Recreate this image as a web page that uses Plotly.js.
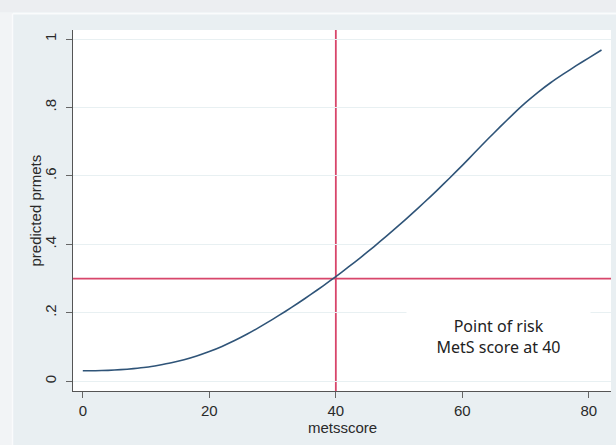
<!DOCTYPE html>
<html>
<head>
<meta charset="utf-8">
<script src="https://cdn.plot.ly/plotly-3.0.1.min.js"></script>
<style>
  html, body { margin: 0; padding: 0; background: #e9eff2; }
  #chart { width: 616px; height: 445px; }
</style>
</head>
<body>
<div id="chart"></div>
<script>
// Curve
var metsscore = [0, 2, 4, 6, 8, 10, 12, 14, 16, 18, 20, 22, 24, 26, 28, 30, 32, 34, 36, 38, 40, 42, 44, 46, 48, 50, 52, 54, 56, 58, 60, 62, 64, 66, 68, 70, 72, 74, 76, 78, 80, 82];
var predicted = [0.031, 0.031, 0.032, 0.034, 0.037, 0.041, 0.047, 0.054, 0.063, 0.074, 0.087, 0.102, 0.119, 0.138, 0.159, 0.181, 0.204, 0.228, 0.253, 0.279, 0.306, 0.334, 0.363, 0.393, 0.424, 0.456, 0.489, 0.523, 0.558, 0.594, 0.631, 0.669, 0.707, 0.744, 0.780, 0.814, 0.845, 0.873, 0.898, 0.922, 0.945, 0.968];

// Reference lines
var refScore = [40];
var refRisk = [0.3];

// Ticks and titles
var xTickVals = [0, 20, 40, 60, 80];
var yTickVals = [0, 0.2, 0.4, 0.6, 0.8, 1];
var yTickText = ['0', '.2', '.4', '.6', '.8', '1'];
var xTitle = 'metsscore';
var yTitle = 'predicted prmets';

var noteText = ['Point of risk', 'MetS score at 40'];
var noteX = [65.7];
var noteY = [0.131];

var lineRed = '#d8466b';
var textCol = '#2a2a2a';

var traces = [{
  x: metsscore,
  y: predicted,
  type: 'scatter',
  mode: 'lines',
  line: { color: '#2f5478', width: 1.6, shape: 'spline', smoothing: 0.5 },
  hoverinfo: 'skip',
  showlegend: false
}];

var shapes = [
  // outer screenshot framing
  { type: 'rect', xref: 'paper', yref: 'paper', x0: -0.2, x1: 1.2, y0: 1.049, y1: 1.2, fillcolor: '#eceef1', line: { width: 0 }, layer: 'below' },
  { type: 'rect', xref: 'paper', yref: 'paper', x0: -0.2, x1: -0.1135, y0: -0.3, y1: 1.049, fillcolor: '#f2f4f6', line: { width: 0 }, layer: 'below' },
  { type: 'line', xref: 'paper', yref: 'paper', x0: -0.1125, x1: 1.2, y0: 1.046, y1: 1.046, line: { color: '#fafbfc', width: 2 }, layer: 'below' },
  { type: 'line', xref: 'paper', yref: 'paper', x0: -0.1125, x1: -0.1125, y0: -0.3, y1: 1.046, line: { color: '#fafbfc', width: 1.5 }, layer: 'below' },
  // reference lines
  { type: 'line', xref: 'x', yref: 'paper', x0: refScore[0], x1: refScore[0], y0: 0, y1: 1, line: { color: lineRed, width: 1.8 }, layer: 'between' },
  { type: 'line', xref: 'paper', yref: 'y', x0: 0, x1: 1, y0: refRisk[0], y1: refRisk[0], line: { color: lineRed, width: 1.8 }, layer: 'between' }
];

var layout = {
  width: 616,
  height: 445,
  margin: { l: 73, r: 5, t: 30, b: 54 },
  paper_bgcolor: '#e9eff2',
  plot_bgcolor: '#ffffff',
  font: { family: 'Liberation Sans, Arial, sans-serif', size: 15, color: textCol },
  showlegend: false,
  xaxis: {
    range: [-1.55, 83.5],
    tickvals: xTickVals,
    ticks: 'outside',
    ticklen: 6,
    tickwidth: 1,
    tickcolor: '#666666',
    showgrid: false,
    zeroline: false,
    showline: true,
    linecolor: '#555555',
    linewidth: 1.3,
    tickfont: { size: 15, color: textCol },
    fixedrange: true
  },
  yaxis: {
    range: [-0.0283, 1.0263],
    tickvals: yTickVals,
    ticktext: yTickText,
    tickangle: -90,
    ticklabelstandoff: 4,
    ticks: 'outside',
    ticklen: 6,
    tickwidth: 1,
    tickcolor: '#666666',
    showgrid: true,
    gridcolor: '#e8f0f2',
    gridwidth: 1,
    zeroline: false,
    showline: true,
    linecolor: '#555555',
    linewidth: 1.3,
    tickfont: { size: 15, color: textCol },
    fixedrange: true
  },
  shapes: shapes,
  annotations: [{
    x: noteX[0],
    y: noteY[0],
    xref: 'x',
    yref: 'y',
    text: noteText.join('<br>'),
    showarrow: false,
    bgcolor: '#ffffff',
    width: 183,
    height: 63,
    borderpad: 0,
    align: 'center',
    font: { family: 'Noto Sans, DejaVu Sans, sans-serif', size: 16, color: '#222222' }
  }, {
    x: 0.5, y: -0.101, xref: 'paper', yref: 'paper',
    xanchor: 'center', yanchor: 'middle',
    text: xTitle, showarrow: false,
    font: { size: 15, color: textCol }
  }, {
    x: -0.0688, y: 0.5, xref: 'paper', yref: 'paper',
    xanchor: 'center', yanchor: 'middle', textangle: -90,
    text: yTitle, showarrow: false,
    font: { size: 15, color: textCol }
  }]
};

Plotly.newPlot('chart', traces, layout, { displayModeBar: false, staticPlot: true });
</script>
</body>
</html>
